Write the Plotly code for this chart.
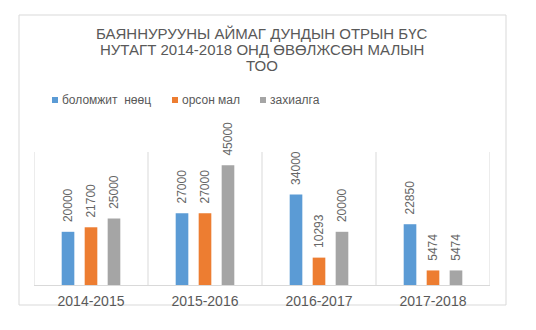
import plotly.graph_objects as go

categories = ["2014-2015", "2015-2016", "2016-2017", "2017-2018"]
series_names = ["боломжит  нөөц", "орсон мал", "захиалга"]
boloomjit = [20000, 27000, 34000, 22850]
orson = [21700, 27000, 10293, 5474]
zahialga = [25000, 45000, 20000, 5474]
colors = ["#5B9BD5", "#ED7D31", "#A5A5A5"]

title_lines = ["БАЯННУРУУНЫ АЙМАГ ДУНДЫН ОТРЫН БҮС",
               "НУТАГТ 2014-2018 ОНД ӨВӨЛЖСӨН МАЛЫН",
               "ТОО"]

FONT = "Liberation Sans, Arial, sans-serif"
GREY = "#595959"

W, H = 536, 330
L, R, T, B = 34, 46, 152, 45
pw, ph = W - L - R, H - T - B

def px_x(x):
    return (x - L) / pw
def px_y(y):
    return (H - B - y) / ph

fig = go.Figure()
for name, vals, col in zip(series_names, [boloomjit, orson, zahialga], colors):
    fig.add_trace(go.Bar(
        x=categories, y=vals, name=name, marker=dict(color=col, line=dict(width=0)),
        text=[str(v) for v in vals], texttemplate="  %{text}",
        textposition="outside", textangle=-90, constraintext="none",
        textfont=dict(family=FONT, size=12, color="#666666"), cliponaxis=False,
        showlegend=False,
    ))

shapes = []
annotations = []
shapes.append(dict(type="rect", xref="paper", yref="paper",
                   x0=px_x(19), x1=px_x(506), y0=px_y(305), y1=px_y(15),
                   line=dict(color="#D9D9D9", width=1), layer="below"))
for i in range(len(categories) + 1):
    shapes.append(dict(type="line", xref="x", yref="y", x0=i - 0.5, x1=i - 0.5,
                       y0=0, y1=50000, line=dict(color="#D9D9D9", width=1), layer="below"))

for ln, yc in zip(title_lines, [33, 49.5, 66]):
    annotations.append(dict(text=ln, xref="paper", yref="paper", x=px_x(262), y=px_y(yc),
                            xanchor="center", yanchor="middle", showarrow=False,
                            font=dict(family=FONT, size=15, color=GREY)))

leg_x = [52, 172, 260]
for name, col, lx in zip(series_names, colors, leg_x):
    shapes.append(dict(type="rect", xref="paper", yref="paper",
                       x0=px_x(lx), x1=px_x(lx + 6), y0=px_y(103), y1=px_y(97),
                       fillcolor=col, line=dict(width=0)))
    annotations.append(dict(text=name, xref="paper", yref="paper", x=px_x(lx + 8), y=px_y(100),
                            xanchor="left", yanchor="middle", showarrow=False,
                            font=dict(family=FONT, size=12, color=GREY)))

fig.update_layout(
    width=W, height=H, margin=dict(l=L, r=R, t=T, b=B),
    paper_bgcolor="white", plot_bgcolor="white",
    barmode="group", bargap=0.395, bargroupgap=0.45,
    xaxis=dict(showline=True, linecolor="#D9D9D9", linewidth=1, showgrid=False,
               ticks="", ticklabelstandoff=3,
               tickfont=dict(family=FONT, size=14, color=GREY),
               range=[-0.5, 3.5], fixedrange=True),
    yaxis=dict(visible=False, range=[0, 50000], showgrid=False, zeroline=False),
    shapes=shapes, annotations=annotations,
    showlegend=False,
)

fig.write_html("out.html")
